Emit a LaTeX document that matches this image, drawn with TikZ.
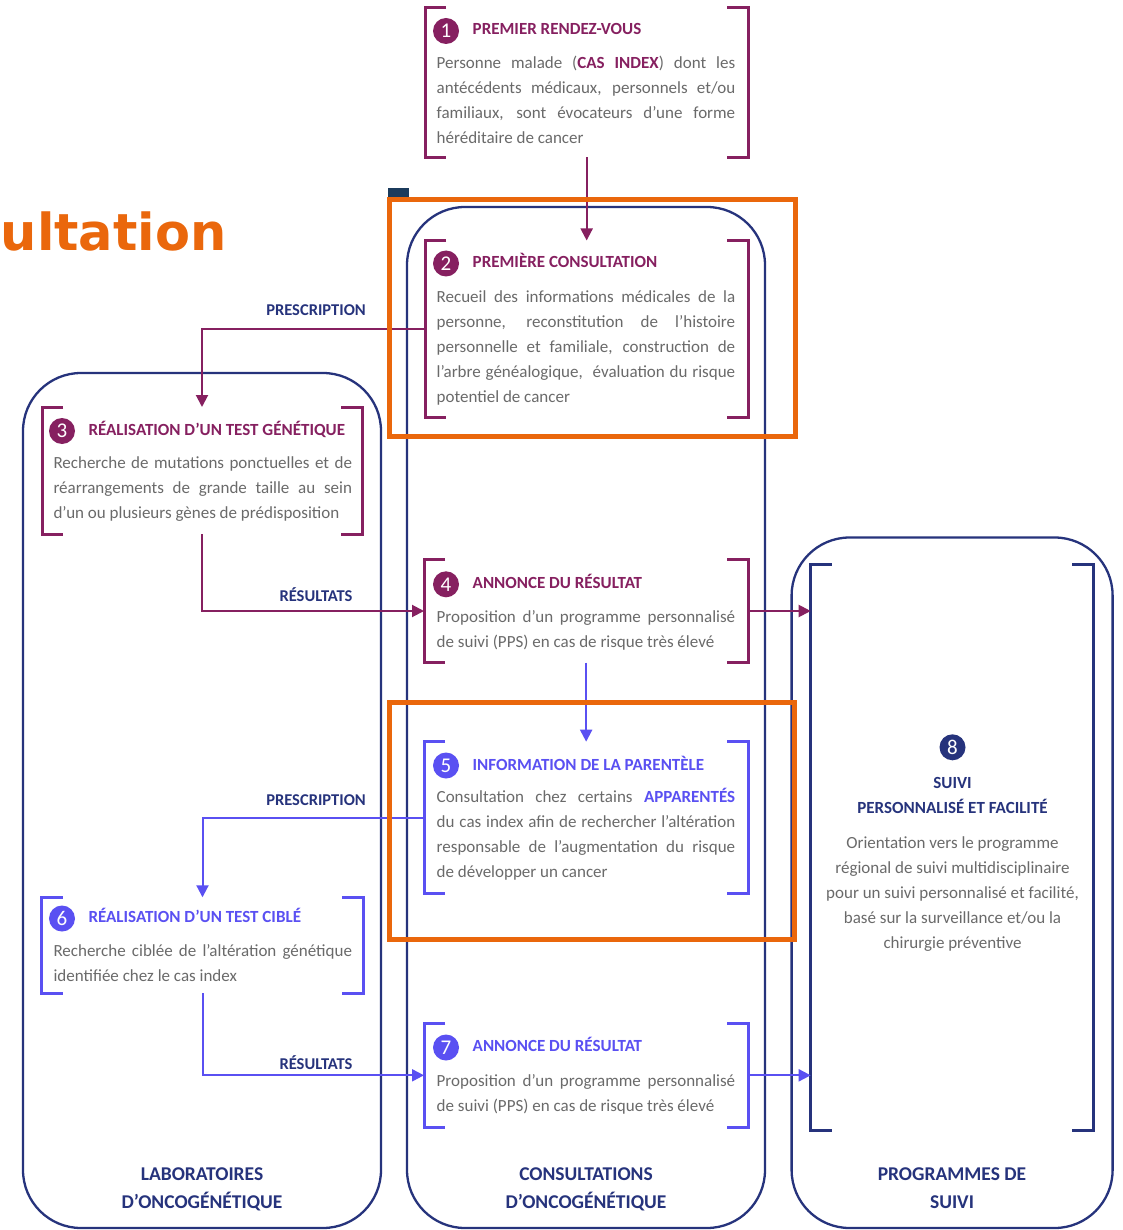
\documentclass[tikz,border=0pt]{standalone}
\usepackage{fontspec}
\setmainfont{Carlito}
\newfontfamily\djv{DejaVu Sans}
\usetikzlibrary{arrows.meta}
\definecolor{cpurple}{HTML}{862060}
\definecolor{cblue}{HTML}{5A50F2}
\definecolor{cnavy}{HTML}{26337C}
\definecolor{corange}{HTML}{EA670C}
\definecolor{ctext}{HTML}{6A6A6A}
\definecolor{cdark}{HTML}{1B3B5C}
\newlength{\jw}\setlength{\jw}{298.5pt}
\newcommand{\jl}[1]{\makebox[\jw][s]{#1}}
\newcommand{\brk}[2]{%
  \draw[bracketline, draw=#2] ([xshift=21pt]#1.north west) -- (#1.north west) -- (#1.south west) -- ([xshift=21pt]#1.south west);
  \draw[bracketline, draw=#2] ([xshift=-21pt]#1.north east) -- (#1.north east) -- (#1.south east) -- ([xshift=-21pt]#1.south east);}
\tikzset{
  column/.style={draw=cnavy, line width=2.3pt, rounded corners=58pt, inner sep=0pt},
  area/.style={inner sep=0pt, outer sep=0pt},
  bracketline/.style={line width=3pt},
  numc/.style={circle, fill=#1, text=white, minimum size=26pt, inner sep=0pt, font=\fontsize{21}{21}\selectfont},
  ttl/.style={inner sep=0pt, anchor=base west, text=#1, font=\bfseries\fontsize{17}{20}\selectfont},
  body/.style={inner sep=0pt, anchor=north west, align=left, text=ctext, font=\fontsize{17}{25}\selectfont},
  lbl/.style={inner sep=0pt, anchor=base, text=cnavy, font=\bfseries\fontsize{16.5}{20}\selectfont},
  collbl/.style={inner sep=0pt, anchor=north, align=center, text=cnavy, font=\bfseries\fontsize{19.5}{28.3}\selectfont},
  arrP/.style={draw=cpurple, line width=2pt, -{Triangle[length=12pt,width=12pt]}},
  arrB/.style={draw=cblue, line width=2pt, -{Triangle[length=12pt,width=12pt]}},
  orangebox/.style={draw=corange, line width=5pt},
}
\begin{document}
\begin{tikzpicture}[x=1pt,y=-1pt]
\fill[white] (0,0) rectangle (1122,1230);
\useasboundingbox (0,0) rectangle (1122,1230);

% orange partial title
\node[inner sep=0pt, anchor=base west, text=corange, font=\djv\bfseries\fontsize{51}{60}\selectfont] (ttlorange) at (0.5,251) {ultation};

% columns
\node[column, minimum width=358pt, minimum height=855pt] (colL) at (202,800.5) {};
\node[column, minimum width=358pt, minimum height=1021pt] (colM) at (586,717.5) {};
\node[column, minimum width=321pt, minimum height=690.5pt] (colR) at (952.1,882.75) {};

% box areas
\node[area, minimum width=323.3pt, minimum height=150pt] (b1) at (586.65,82.5) {};
\node[area, minimum width=323.3pt, minimum height=176.5pt] (b2) at (586.65,328.75) {};
\node[area, minimum width=320pt, minimum height=127pt] (b3) at (202,470.5) {};
\node[area, minimum width=324.3pt, minimum height=103.4pt] (b4) at (586.15,611) {};
\node[area, minimum width=324.3pt, minimum height=151.6pt] (b5) at (586.15,817.5) {};
\node[area, minimum width=321.6pt, minimum height=96pt] (b6) at (202.5,945.3) {};
\node[area, minimum width=324.3pt, minimum height=104pt] (b7) at (586.15,1075.3) {};
\node[area, minimum width=282.6pt, minimum height=566pt] (b8) at (952,847) {};

\brk{b1}{cpurple}
\brk{b2}{cpurple}
\brk{b3}{cpurple}
\brk{b4}{cpurple}
\brk{b5}{cblue}
\brk{b6}{cblue}
\brk{b7}{cblue}
\brk{b8}{cnavy}

% numbers and titles
\node[numc=cpurple] (n1) at (446,31) {1};
\node[ttl=cpurple] (h1) at (472.5,34.3) {PREMIER RENDEZ-VOUS};
\node[numc=cpurple] (n2) at (446,263.5) {2};
\node[ttl=cpurple] (h2) at (472.5,267.7) {PREMIÈRE CONSULTATION};
\node[numc=cpurple] (n3) at (62,431) {3};
\node[ttl=cpurple] (h3) at (88.3,435.7) {RÉALISATION D’UN TEST GÉNÉTIQUE};
\node[numc=cpurple] (n4) at (446,584.3) {4};
\node[ttl=cpurple] (h4) at (472.5,588) {ANNONCE DU RÉSULTAT};
\node[numc=cblue] (n5) at (446,765.5) {5};
\node[ttl=cblue] (h5) at (472.5,770) {INFORMATION DE LA PARENTÈLE};
\node[numc=cblue] (n6) at (62,918.5) {6};
\node[ttl=cblue] (h6) at (88.3,922.7) {RÉALISATION D’UN TEST CIBLÉ};
\node[numc=cblue] (n7) at (446,1047.5) {7};
\node[ttl=cblue] (h7) at (472.5,1051.7) {ANNONCE DU RÉSULTAT};
\node[numc=cnavy] (n8) at (952.5,747.3) {8};
\node[inner sep=0pt, anchor=north, align=center, text=cnavy, font=\bfseries\fontsize{17}{25}\selectfont] (h8) at (952.5,770.8) {\strut SUIVI\\PERSONNALISÉ ET FACILITÉ};

% bodies
\node[body] (t1) at (436.5,50.8) {\strut\jl{Personne malade (\textcolor{cpurple}{\textbf{CAS INDEX}}) dont les}\\
\jl{antécédents médicaux, personnels et/ou}\\
\jl{familiaux, sont évocateurs d’une forme}\\
héréditaire de cancer};
\node[body] (t2) at (436.5,285.2) {\strut\jl{Recueil des informations médicales de la}\\
\jl{personne, reconstitution de l’histoire}\\
\jl{personnelle et familiale, construction de}\\
\jl{l’arbre généalogique, \ évaluation du risque}\\
potentiel de cancer};
\node[body] (t3) at (53.3,451) {\strut\jl{Recherche de mutations ponctuelles et de}\\
\jl{réarrangements de grande taille au sein}\\
d’un ou plusieurs gènes de prédisposition};
\node[body] (t4) at (436.5,605) {\strut\jl{Proposition d’un programme personnalisé}\\
de suivi (PPS) en cas de risque très élevé};
\node[body] (t5) at (436.5,785.2) {\strut\jl{Consultation chez certains \textcolor{cblue}{\textbf{APPARENTÉS}}}\\
\jl{du cas index afin de rechercher l’altération}\\
\jl{responsable de l’augmentation du risque}\\
de développer un cancer};
\node[body] (t6) at (53.3,939.2) {\strut\jl{Recherche ciblée de l’altération génétique}\\
identifiée chez le cas index};
\node[body] (t7) at (436.5,1068.5) {\strut\jl{Proposition d’un programme personnalisé}\\
de suivi (PPS) en cas de risque très élevé};
\node[body, anchor=north, align=center] (t8) at (952.5,830.8) {\strut Orientation vers le programme\\
régional de suivi multidisciplinaire\\
pour un suivi personnalisé et facilité,\\
basé sur la surveillance et/ou la\\
chirurgie préventive};

% column labels
\node[collbl] (lL) at (202,1160.5) {\strut LABORATOIRES\\D’ONCOGÉNÉTIQUE};
\node[collbl] (lM) at (586,1160.5) {\strut CONSULTATIONS\\D’ONCOGÉNÉTIQUE};
\node[collbl] (lR) at (952,1160.5) {\strut PROGRAMMES DE\\SUIVI};

% arrow labels
\node[lbl] (p1) at (316,315) {PRESCRIPTION};
\node[lbl] (r1) at (316,601) {RÉSULTATS};
\node[lbl] (p2) at (316,805) {PRESCRIPTION};
\node[lbl] (r2) at (316,1069) {RÉSULTATS};

% connectors
\draw[arrP] (b1.south) -- (b2.north);
\draw[arrP] (b2.west) -| (b3.north);
\draw[arrP] (b3.south) |- (b4.west);
\draw[arrP] (b4.east) -- (b4.east -| b8.west);
\draw[arrB] (b4.south) -- (b5.north);
\draw[arrB] (b5.west) -| (b6.north);
\draw[arrB] (b6.south) |- (b7.west);
\draw[arrB] (b7.east) -- (b7.east -| b8.west);

% dark tab and orange highlight frames
\fill[cdark] (388,188) rectangle (409,201);
\draw[orangebox] (389.5,200) rectangle (795.5,436);
\draw[orangebox] (389.5,702.5) rectangle (794.5,939.5);
\end{tikzpicture}
\end{document}
